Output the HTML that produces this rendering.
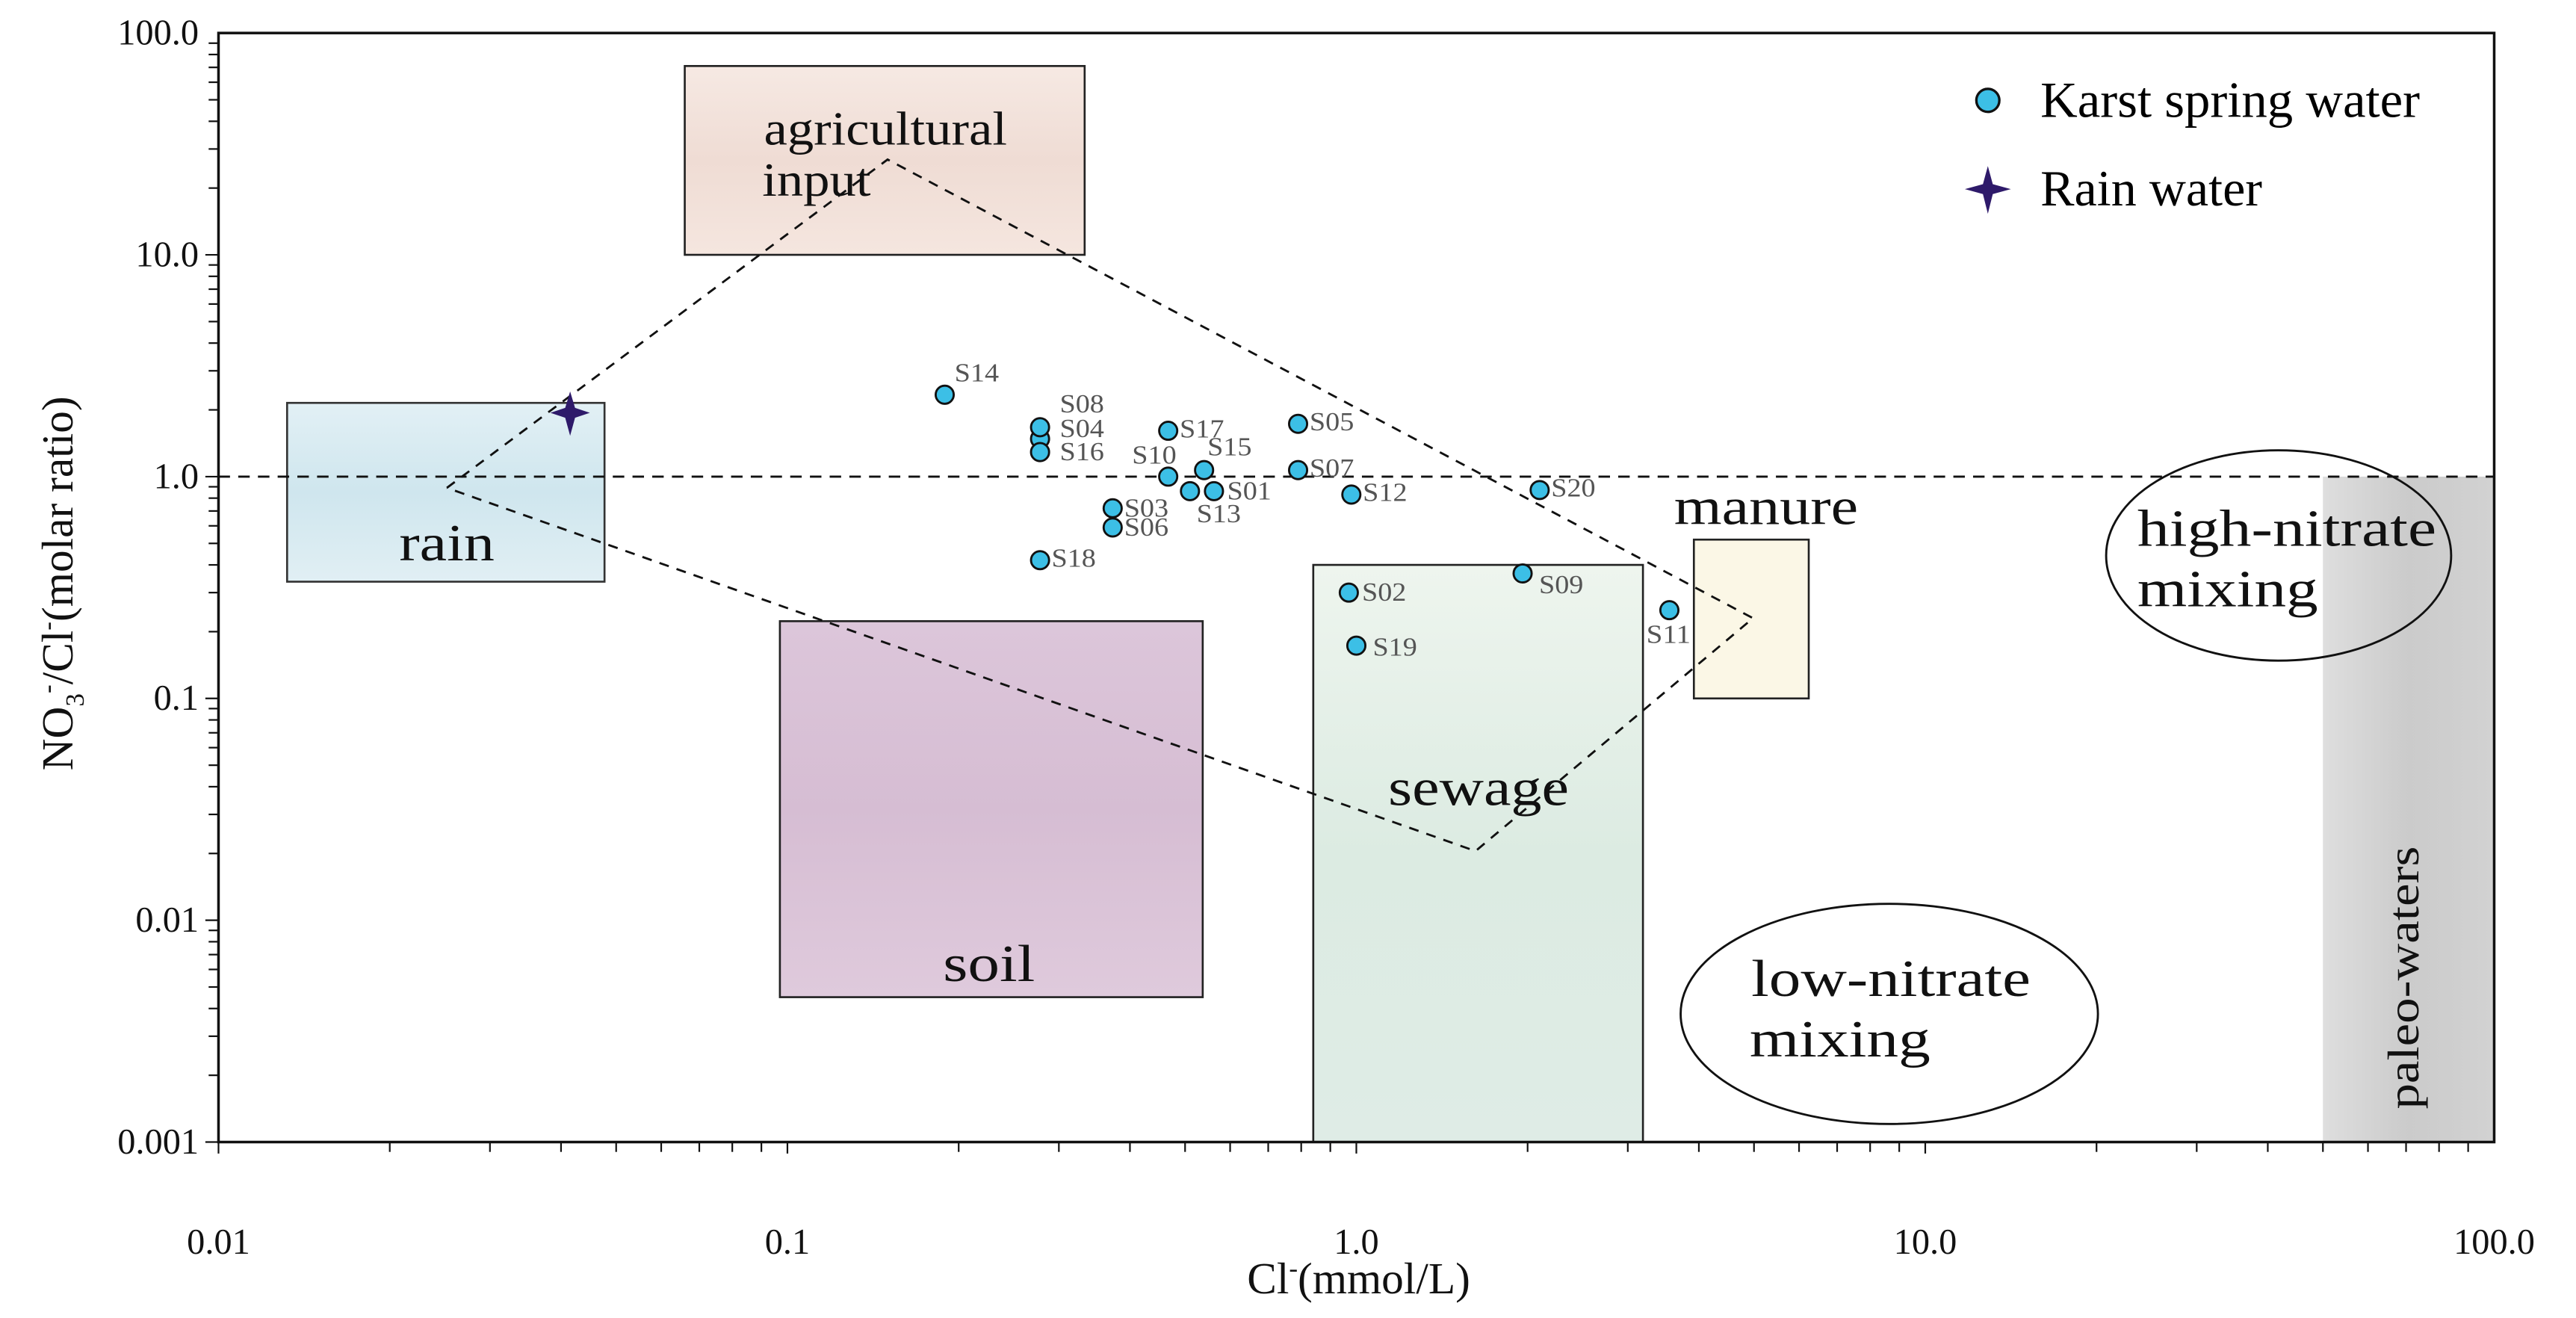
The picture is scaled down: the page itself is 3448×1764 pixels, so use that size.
<!DOCTYPE html>
<html><head><meta charset="utf-8"><style>
html,body{margin:0;padding:0;background:#fff;}
svg{display:block;}
text{font-family:"Liberation Serif",serif;}
</style></head><body>
<svg id="chart" width="3448" height="1764" viewBox="0 0 1568 802" xmlns="http://www.w3.org/2000/svg">
<defs>
<linearGradient id="gAgri" x1="0" y1="0" x2="0" y2="1"><stop offset="0" stop-color="#f6e9e3"/><stop offset="0.5" stop-color="#efdcd4"/><stop offset="1" stop-color="#f5e6df"/></linearGradient>
<linearGradient id="gRain" x1="0" y1="0" x2="0" y2="1"><stop offset="0" stop-color="#e2f0f5"/><stop offset="0.5" stop-color="#cfe6ee"/><stop offset="1" stop-color="#e1eff4"/></linearGradient>
<linearGradient id="gSoil" x1="0" y1="0" x2="0" y2="1"><stop offset="0" stop-color="#dcc6da"/><stop offset="0.5" stop-color="#d6bdd3"/><stop offset="1" stop-color="#dfcadc"/></linearGradient>
<linearGradient id="gSew" x1="0" y1="0" x2="0" y2="1"><stop offset="0" stop-color="#eef5ee"/><stop offset="0.5" stop-color="#dcebe2"/><stop offset="1" stop-color="#dfece6"/></linearGradient>
<linearGradient id="gPaleo" x1="0" y1="0" x2="1" y2="0"><stop offset="0" stop-color="#dedede"/><stop offset="0.5" stop-color="#cbcbcb"/><stop offset="1" stop-color="#d2d2d2"/></linearGradient>
</defs>
<g id="regions"></g>
<g id="axes"></g>
<g id="marks"></g>
<g id="legend">
  <circle cx="1210" cy="61" r="7" fill="#3cbfe6" stroke="#111" stroke-width="1.5"/>
  <text x="1242" y="71" font-size="31" textLength="231" lengthAdjust="spacingAndGlyphs">Karst spring water</text>
  <path d="M1210,101 L1213,112 L1224,115 L1213,118 L1210,130 L1207,118 L1196,115 L1207,112 Z" fill="#2e1a6a"/>
  <text x="1242" y="125" font-size="31" textLength="135" lengthAdjust="spacingAndGlyphs">Rain water</text>
</g>
</svg>
<script>
// ---- data ----
const sampleNames = ["S01","S02","S03","S04","S05","S06","S07","S08","S09","S10","S11","S12","S13","S14","S15","S16","S17","S18","S19","S20"];
const sampleCl   = [0.562,0.97,0.373,0.278,0.79,0.373,0.79,0.278,1.96,0.467,3.55,0.98,0.51,0.189,0.54,0.278,0.467,0.278,1.0,2.1];
const sampleRatio= [0.86,0.30,0.72,1.48,1.73,0.59,1.07,1.67,0.366,1.0,0.25,0.83,0.86,2.34,1.07,1.29,1.61,0.42,0.173,0.87];
const rainCl = [0.0415];
const rainRatio = [1.94];
const xTicks = [0.01,0.1,1,10,100];
const xTickLabels = ["0.01","0.1","1.0","10.0","100.0"];
const yTicks = [100,10,1,0.1,0.01,0.001];
const yTickLabels = ["100.0","10.0","1.0","0.1","0.01","0.001"];
const mixX = [0.0252,0.15,4.98,1.62,0.0252];
const mixY = [0.89,26.9,0.23,0.0205,0.89];

// ---- axes functions ----
const X0=133, XD=346.3, Y0=20, YD=135;
function xs(v){return X0+(Math.log10(v)+2)*XD;}
function ys(v){return Y0+(2-Math.log10(v))*YD;}
const NS="http://www.w3.org/2000/svg";
function mk(tag,attrs,parent,txt){const e=document.createElementNS(NS,tag);for(const k in attrs)e.setAttribute(k,attrs[k]);if(txt!==undefined)e.textContent=txt;parent.appendChild(e);return e;}
const R=document.getElementById('regions'), A=document.getElementById('axes'), M=document.getElementById('marks');

// ---- regions ----
function box(name,x1,x2,y1,y2,fill,stroke){
  const r=mk('rect',{x:xs(x1),y:ys(y2),width:xs(x2)-xs(x1),height:ys(y1)-ys(y2),fill:fill,stroke:stroke||'#222','stroke-width':1.2},R);
  
  
}
box('agricultural-input-box',0.066,0.333,10,71,'url(#gAgri)');
box('rain-box',0.0132,0.0477,0.336,2.15,'url(#gRain)','#333');
box('soil-box',0.097,0.537,0.0045,0.223,'url(#gSoil)');
box('sewage-box',0.84,3.19,0.001,0.40,'url(#gSew)');
box('manure-box',3.92,6.24,0.1,0.52,'#fbf7e6');
box('paleo-waters-box',50,100,0.001,1,'url(#gPaleo)','none');
function lbl(name,x,y,t,size,len,extra){
  const e=mk('text',Object.assign({x:x,y:y,'font-size':size,'text-anchor':'middle',fill:'#111',textLength:len,lengthAdjust:'spacingAndGlyphs'},extra||{}),R,t);
  
  
  return e;
}
lbl('agricultural-label',539,88,'agricultural',29,148);
lbl('input-label',497,119,'input',29,66);
lbl('rain-label',272,341,'rain',32,58);
lbl('soil-label',602,597,'soil',32,56);
lbl('sewage-label',900,490,'sewage',32,110);
lbl('manure-label',1075,319,'manure',32,112);
lbl('paleo-waters-label',1472,595,'paleo-waters',27,160,{transform:'rotate(-90 1472 595)'});
const e1=mk('ellipse',{cx:1387,cy:338,rx:105,ry:64,fill:'none',stroke:'#111','stroke-width':1.3},R);


lbl('high-nitrate-label',1392,332,'high-nitrate',32,182);
lbl('high-nitrate-mixing-label',1356,369,'mixing',32,110);
const e2=mk('ellipse',{cx:1150,cy:617,rx:127,ry:67,fill:'none',stroke:'#111','stroke-width':1.3},R);


lbl('low-nitrate-label',1151,606,'low-nitrate',32,170);
lbl('low-nitrate-mixing-label',1120,643,'mixing',32,110);

// mixing diamond
let d='';for(let i=0;i<mixX.length;i++){d+=(i?'L':'M')+xs(mixX[i])+','+ys(mixY[i]);}
const dia=mk('path',{d:d,fill:'none',stroke:'#111','stroke-width':1.3,'stroke-dasharray':'6,5'},R);


const hl=mk('line',{x1:xs(0.01),x2:xs(100),y1:ys(1),y2:ys(1),stroke:'#111','stroke-width':1.3,'stroke-dasharray':'7,5'},R);



// ---- axes ----
const frame=mk('rect',{x:xs(0.01),y:ys(100),width:xs(100)-xs(0.01),height:ys(0.001)-ys(100),fill:'none',stroke:'#111','stroke-width':1.6},A);


for(let dec=0.01;dec<100;dec*=10){for(let k=1;k<10;k++){const v=dec*k;const px=xs(v);
  const t=mk('line',{x1:px,x2:px,y1:ys(0.001),y2:ys(0.001)+(k===1?7:6),stroke:'#111','stroke-width':1},A);
  
  }}
for(let dec=0.001;dec<100;dec*=10){for(let k=1;k<10;k++){const v=dec*k;const py=ys(v);
  const t=mk('line',{x1:xs(0.01)-(k===1?8:6),x2:xs(0.01),y1:py,y2:py,stroke:'#111','stroke-width':1},A);
  
  }}
xTicks.forEach((v,i)=>{const t=mk('text',{x:xs(v),y:763,'font-size':22,'text-anchor':'middle',fill:'#111'},A,xTickLabels[i]);
  
  });
yTicks.forEach((v,i)=>{const t=mk('text',{x:121,y:ys(v)+7,'font-size':22,'text-anchor':'end',fill:'#111'},A,yTickLabels[i]);
  
  });
const xt=mk('text',{x:827,y:787,'font-size':27,'text-anchor':'middle',fill:'#111'},A);


xt.innerHTML='Cl<tspan font-size="16" dy="-10">-</tspan><tspan dy="10">(mmol/L)</tspan>';
const yt=mk('text',{x:0,y:0,'font-size':27,'text-anchor':'middle',fill:'#111',transform:'translate(44 355) rotate(-90)'},A);


yt.innerHTML='NO<tspan font-size="16" dy="7">3</tspan><tspan font-size="16" dy="-17">-</tspan><tspan dy="10">/Cl</tspan><tspan font-size="16" dy="-10">-</tspan><tspan dy="10">(molar ratio)</tspan>';

// ---- marks ----
const labelOff={S10:[-22,-8],S13:[4,19],S06:[7,5],S03:[7,5],S09:[10,12],S11:[-14,20],S14:[6,-8],S08:[12,-9],S04:[12,-1],S16:[12,5],S01:[8,5],S02:[8,5],S19:[10,6],S15:[2,-9]};
sampleNames.forEach((n,i)=>{
  const cx=xs(sampleCl[i]), cy=ys(sampleRatio[i]);
  const c=mk('circle',{cx:cx,cy:cy,r:5.5,fill:'#3cbfe6',stroke:'#111','stroke-width':1.3},M);
  
  
  const o=labelOff[n]||[7,4];
  const t=mk('text',{x:cx+o[0],y:cy+o[1],'font-size':16,fill:'#555',textLength:27,lengthAdjust:'spacingAndGlyphs'},M,n);
  
  
});
rainCl.forEach((v,i)=>{const x=xs(v),y=ys(rainRatio[i]);
  const s=mk('path',{d:`M${x},${y-13}L${x+3},${y-3}L${x+12},${y}L${x+3},${y+3}L${x},${y+14}L${x-3},${y+3}L${x-12},${y}L${x-3},${y-3}Z`,fill:'#2e1a6a'},M);
  
  });
</script>
</body></html>
